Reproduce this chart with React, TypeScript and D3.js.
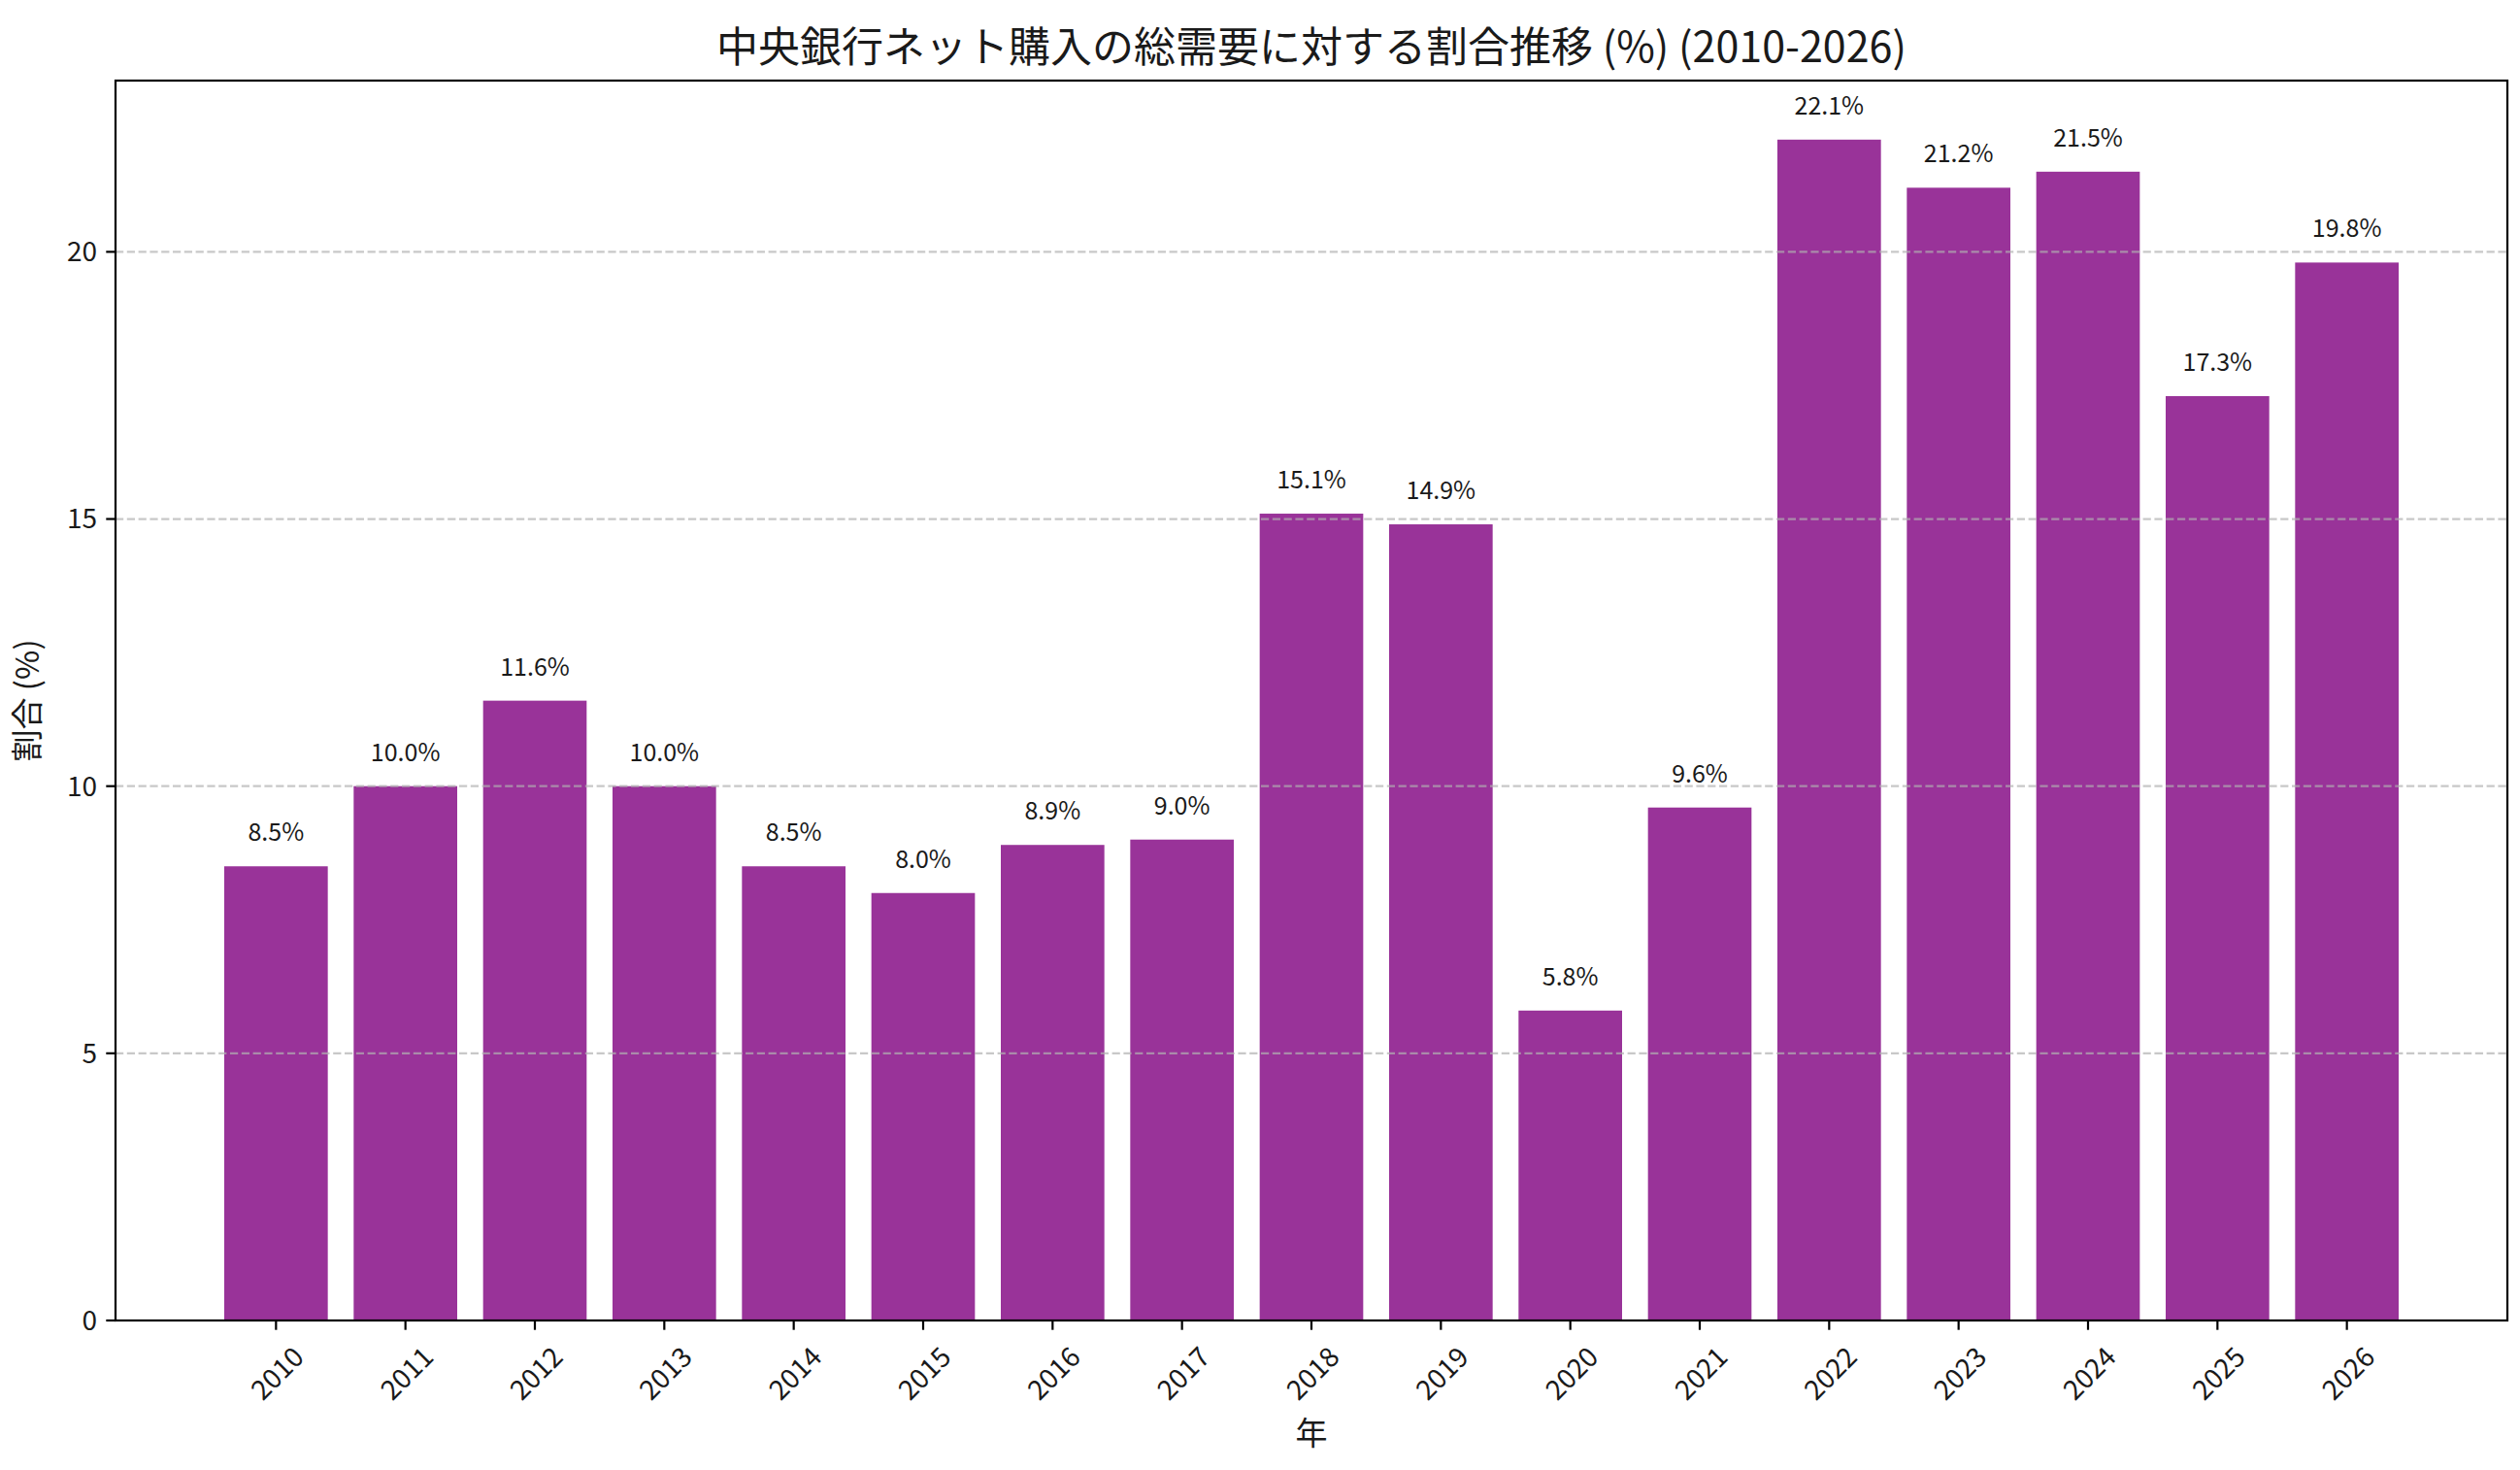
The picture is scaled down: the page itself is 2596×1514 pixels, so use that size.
import React, { useMemo } from 'react';
import * as d3 from 'd3';

const years = ['2010', '2011', '2012', '2013', '2014', '2015', '2016', '2017', '2018', '2019', '2020', '2021', '2022', '2023', '2024', '2025', '2026'];
const shares = [8.5, 10.0, 11.6, 10.0, 8.5, 8.0, 8.9, 9.0, 15.1, 14.9, 5.8, 9.6, 22.1, 21.2, 21.5, 17.3, 19.8];
const yTicks = [0, 5, 10, 15, 20];

const title = '中央銀行ネット購入の総需要に対する割合推移 (%) (2010-2026)';
const xLabel = '年';
const yLabel = '割合 (%)';

const W = 2596;
const H = 1514;
const font = '"Noto Sans CJK JP", "Noto Sans", sans-serif';

const App: React.FC = () => {
  const margin = { top: 83, right: 13, bottom: 154, left: 119 };
  const innerWidth = W - margin.left - margin.right;
  const innerHeight = H - margin.top - margin.bottom;

  const { xScale, yScale } = useMemo(() => {
    // matplotlib-like limits: bars of width 0.8 plus 5% margin
    const lo = -0.4;
    const hi = years.length - 1 + 0.4;
    const pad = (hi - lo) * 0.05;
    const xScale = d3.scaleLinear().domain([lo - pad, hi + pad]).range([0, innerWidth]);
    const yMax = (d3.max(shares) as number) * 1.05;
    const yScale = d3.scaleLinear().domain([0, yMax]).range([innerHeight, 0]);
    return { xScale, yScale };
  }, []);

  const barW = xScale(0.8) - xScale(0);

  return (
    <div style={{ position: 'absolute', left: 0, top: 0 }}>
      <svg width={W} height={H} viewBox={`0 0 ${W} ${H}`} style={{ display: 'block', background: '#fff' }} fontFamily={font}>
        <text x={margin.left + innerWidth / 2} y={64} textAnchor="middle" fontSize={43} fill="#1a1a1a">
          {title}
        </text>
        <g transform={`translate(${margin.left}, ${margin.top})`}>
          {/* Bars */}
          {shares.map((v, i) => (
            <rect
              key={years[i]}
              x={xScale(i) - barW / 2}
              y={yScale(v)}
              width={barW}
              height={innerHeight - yScale(v)}
              fill="purple"
              fillOpacity={0.8}
            />
          ))}

          {/* Grid lines (drawn above bars) */}
          {yTicks.map((t) => (
            <line
              key={`g${t}`}
              x1={0}
              x2={innerWidth}
              y1={yScale(t)}
              y2={yScale(t)}
              stroke="#b0b0b0"
              strokeOpacity={0.7}
              strokeWidth={2.2}
              strokeDasharray="8.2,3.6"
            />
          ))}

          {/* Value labels */}
          {shares.map((v, i) => (
            <text
              key={`l${years[i]}`}
              x={xScale(i)}
              y={yScale(v) - 26}
              textAnchor="middle"
              fontSize={25}
              fill="#1a1a1a"
            >
              {`${v.toFixed(1)}%`}
            </text>
          ))}

          {/* Y axis ticks */}
          {yTicks.map((t) => (
            <g key={`y${t}`} transform={`translate(0, ${yScale(t)})`}>
              <line x1={-9.7} x2={0} stroke="#000" strokeWidth={2.2} />
              <text x={-19} dy="0.35em" textAnchor="end" fontSize={28} fill="#1a1a1a">
                {t}
              </text>
            </g>
          ))}

          {/* X axis ticks */}
          {years.map((yr, i) => (
            <g key={`x${yr}`} transform={`translate(${xScale(i)}, ${innerHeight})`}>
              <line y1={0} y2={9.7} stroke="#000" strokeWidth={2.2} />
              <text
                transform={`translate(0, ${19 + 34}) rotate(-45)`}
                textAnchor="middle"
                dominantBaseline="central"
                fontSize={28}
                fill="#1a1a1a"
              >
                {yr}
              </text>
            </g>
          ))}

          {/* Frame */}
          <rect x={0} y={0} width={innerWidth} height={innerHeight} fill="none" stroke="#000" strokeWidth={2.2} />

          {/* Axis labels */}
          <text x={innerWidth / 2} y={innerHeight + 128} textAnchor="middle" fontSize={33} fill="#1a1a1a">
            {xLabel}
          </text>
          <text
            transform={`translate(${-79}, ${innerHeight / 2}) rotate(-90)`}
            textAnchor="middle"
            fontSize={33}
            fill="#1a1a1a"
          >
            {yLabel}
          </text>
        </g>
      </svg>
    </div>
  );
};

export default App;
